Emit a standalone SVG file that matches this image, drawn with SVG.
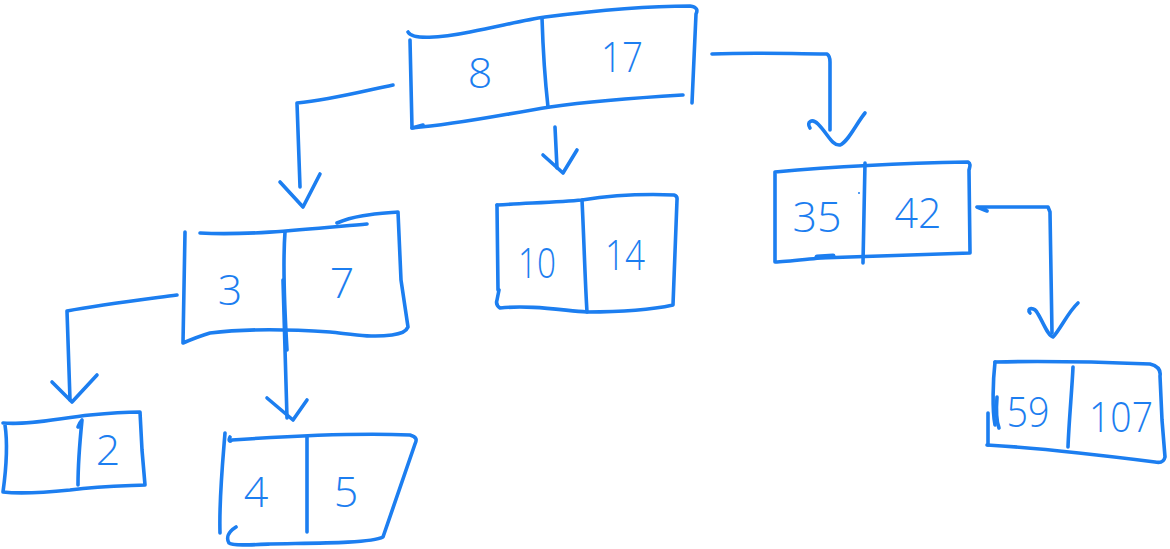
<svg xmlns="http://www.w3.org/2000/svg" width="1170" height="549" viewBox="0 0 1170 549">
<style>
.s{fill:none;stroke:#1c7ef0;stroke-width:3.6;stroke-linecap:round;stroke-linejoin:round}
.t{fill:#1c7ef0;font-family:"Open Sans","Liberation Sans",sans-serif;font-weight:300;font-size:43px;text-anchor:middle}
</style>
<rect width="1170" height="549" fill="#ffffff"/>
<g id="connectors">
<path class="s" d="M393,85 C360,92 330,100 297,103 L300,187"/>
<path class="s" d="M280,182 L303,207 L320,174"/>
<path class="s" d="M555,127 L557,168"/>
<path class="s" d="M543,155 L563,173 L577,150"/>
<path class="s" d="M712,54 C760,52 790,54 827,54 C830,56 830,60 830,62 L830,130"/>
<path class="s" d="M810,128 C806,122 812,118 818,124 C828,134 832,146 840,145 C848,142 856,124 865,113"/>
<path class="s" d="M177,295 C140,300 100,305 67,311 L70,400"/>
<path class="s" d="M52,382 L72,402 L97,375"/>
<path class="s" d="M283,280 L287,418"/>
<path class="s" d="M267,398 L293,420 L307,400"/>
<path class="s" d="M987,211 L977,207 L1048,207 L1050,212 L1052,333"/>
<path class="s" d="M1030,313 C1026,308 1034,306 1038,314 C1044,324 1048,336 1053,337 C1060,330 1068,312 1078,303"/>
</g>
<g id="node-8-17">
<path class="s" d="M408,32 C412,40 440,38 470,32 C505,25 525,20 545,17 C600,10 650,6 690,6 C697,7 698,10 696,14 L692,103"/>
<path class="s" d="M410,40 L412,128 L423,125"/>
<path class="s" d="M412,128 C460,124 500,115 550,107 C600,100 650,97 683,95"/>
<path class="s" d="M542,18 C543,50 545,80 548,107"/>
<text class="t" x="480" y="88">8</text>
<text class="t" x="622" y="72" textLength="42" lengthAdjust="spacingAndGlyphs">17</text>
</g>
<g id="node-3-7">
<path class="s" d="M200,233 C250,236 320,228 367,224"/>
<path class="s" d="M337,223 C355,215 375,214 398,212 L401,280 L408,327 C406,332 400,334 392,335 C370,338 350,334 330,332 C300,330 250,328 210,333 C200,336 190,340 183,343 L185,232"/>
<path class="s" d="M285,232 C283,260 284,300 287,350"/>
<text class="t" x="230" y="305">3</text>
<text class="t" x="342" y="298">7</text>
</g>
<g id="node-2">
<path class="s" d="M3,423 C30,425 60,418 90,415 C110,413 125,412 140,412 L142,450 L145,485 C120,486 100,486 70,490 C40,493 20,494 3,492 C6,470 8,445 5,425"/>
<path class="s" d="M78,427 C80,422 82,420 82,420 C80,440 78,465 78,485"/>
<text class="t" x="108" y="465">2</text>
</g>
<g id="node-4-5">
<path class="s" d="M230,437 C228,441 230,442 232,440 C290,436 360,433 410,435 C417,437 417,440 415,444 L383,537 C370,544 300,543 270,544 C250,545 232,546 229,543 C226,538 228,532 236,527"/>
<path class="s" d="M225,433 C222,470 219,500 220,533"/>
<path class="s" d="M307,437 L307,532"/>
<text class="t" x="256" y="507">4</text>
<text class="t" x="346" y="507">5</text>
</g>
<g id="node-10-14">
<path class="s" d="M497,205 C530,203 560,202 582,200 C620,194 650,194 674,195 C678,196 677,199 677,200 L673,305 C650,310 620,312 587,312 C560,310 530,305 500,308 C497,306 496,303 497,300 L499,290"/>
<path class="s" d="M497,205 L498,290"/>
<path class="s" d="M582,200 C584,240 585,280 587,312"/>
<text class="t" x="537" y="278" textLength="38" lengthAdjust="spacingAndGlyphs">10</text>
<text class="t" x="625" y="270" textLength="40" lengthAdjust="spacingAndGlyphs">14</text>
</g>
<g id="node-35-42">
<path class="s" d="M775,172 C840,166 910,163 968,162 C971,164 970,166 969,170 L970,253 C920,255 870,256 820,258 C800,260 785,262 775,262 L775,172"/>
<path class="s" d="M817,257 L833,256" style="stroke-width:5"/>
<path class="s" d="M865,163 L863,263"/>
<circle cx="859" cy="193" r="1" fill="#1c7ef0"/>
<text class="t" x="817" y="232" textLength="49" lengthAdjust="spacingAndGlyphs">35</text>
<text class="t" x="918" y="228" textLength="47" lengthAdjust="spacingAndGlyphs">42</text>
</g>
<g id="node-59-107">
<path class="s" d="M995,362 C1040,361 1100,362 1150,364 C1158,366 1161,370 1160,376 L1162,420 L1165,457 C1164,462 1160,463 1155,462 C1100,455 1040,448 987,445"/>
<path class="s" d="M995,362 C993,380 992,410 995,425"/>
<path class="s" d="M997,397 C996,410 996,420 999,428"/>
<path class="s" d="M988,413 L988,445"/>
<path class="s" d="M1073,367 C1072,390 1069,420 1068,447"/>
<text class="t" x="1028" y="427" textLength="43" lengthAdjust="spacingAndGlyphs">59</text>
<text class="t" x="1121" y="432" textLength="64" lengthAdjust="spacingAndGlyphs">107</text>
</g>
</svg>
